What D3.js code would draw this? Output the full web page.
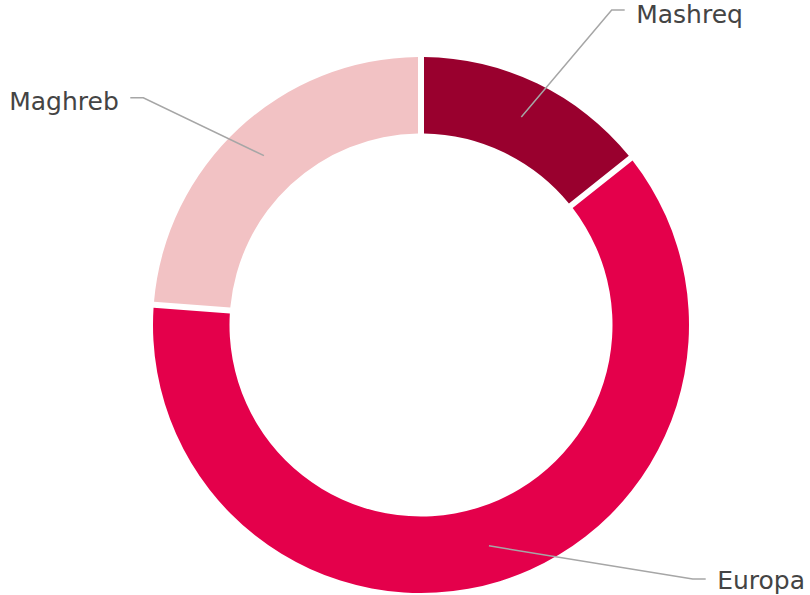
<!DOCTYPE html>
<html>
<head>
<meta charset="utf-8">
<script src="https://cdn.jsdelivr.net/npm/d3@7"></script>
<style>
  html, body { margin: 0; padding: 0; background: #fff; }
  svg { display: block; }
</style>
</head>
<body>
<svg id="chart" width="810" height="595"></svg>
<script>
// Data
const categories = ["Mashreq", "Europa", "Maghreb"];
const values = [14.3, 61.9, 23.8];
const colors = ["#99002e", "#e4004b", "#f2c2c4"];

// Layout
const W = 810, H = 595;
const cx = 421, cy = 325;
const outerR = 268, innerR = 191.5;
const labelR = 231;
// label elbow positions (x of elbow, y of line), side and text baseline offset
const labelLayout = [
  { ex: 611.7, ey: 10, side: 1, dy: 13 },
  { ex: 692.7, ey: 579, side: 1, dy: 9.5 },
  { ex: 143.3, ey: 97.7, side: -1, dy: 12.5 }
];

const svg = d3.select("#chart");
const g = svg.append("g").attr("transform", `translate(${cx},${cy})`);

const data = categories.map((c, i) => ({ name: c, value: values[i], color: colors[i] }));

const pie = d3.pie().value(d => d.value).sort(null).startAngle(0).endAngle(2 * Math.PI);
const arcs = pie(data);

const arc = d3.arc()
  .innerRadius(innerR)
  .outerRadius(outerR)
  .padAngle(0.06)
  .padRadius(100);

g.selectAll("path.slice")
  .data(arcs)
  .enter().append("path")
  .attr("class", "slice")
  .attr("d", arc)
  .attr("fill", d => d.data.color);

// Connector lines and labels
arcs.forEach((a, i) => {
  const mid = (a.startAngle + a.endAngle) / 2;
  const sx = cx + labelR * Math.sin(mid);
  const sy = cy - labelR * Math.cos(mid);
  const L = labelLayout[i];
  const endX = L.ex + L.side * 13;
  svg.append("path")
    .attr("d", `M${sx},${sy}L${L.ex},${L.ey}L${endX},${L.ey}`)
    .attr("fill", "none")
    .attr("stroke", "#a6a6a6")
    .attr("stroke-width", 1.5);
  svg.append("text")
    .attr("x", endX + L.side * 11.5)
    .attr("y", L.ey + L.dy)
    .attr("text-anchor", L.side > 0 ? "start" : "end")
    .attr("font-family", "DejaVu Sans, sans-serif")
    .attr("font-size", 25)
    .attr("fill", "#444444")
    .text(a.data.name);
});
</script>
</body>
</html>
